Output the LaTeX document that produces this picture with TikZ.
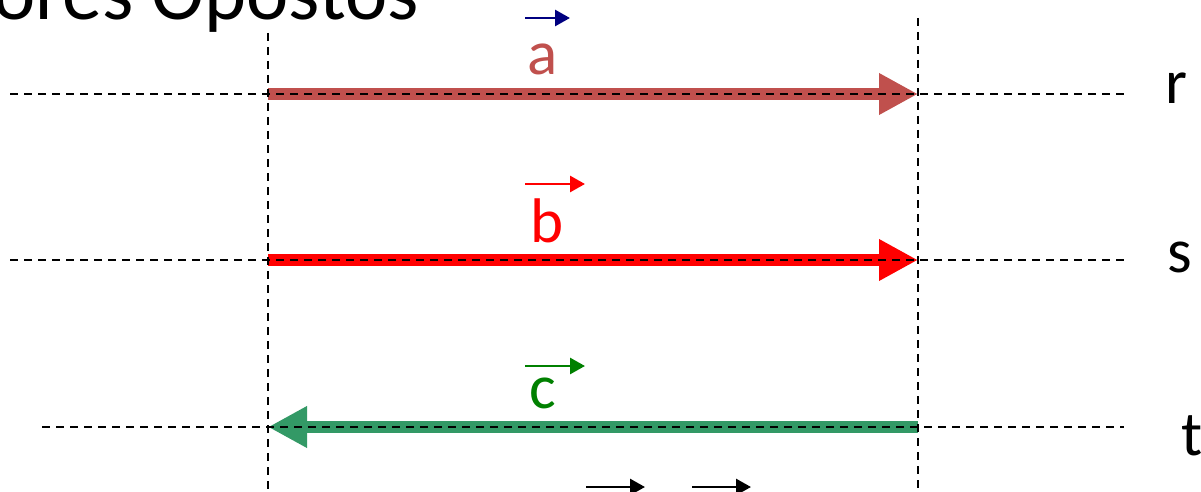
\documentclass[tikz,border=0pt]{standalone}
\usepackage{fontspec}
\setmainfont{Carlito}
\usetikzlibrary{arrows.meta}
\definecolor{aclr}{HTML}{C0504D}
\definecolor{bclr}{HTML}{FF0000}
\definecolor{cclr}{HTML}{339966}
\definecolor{ctext}{HTML}{008000}
\definecolor{navyc}{HTML}{000080}
\tikzset{
  guide/.style={draw=black, line width=2.4pt, dash pattern=on 8pt off 6pt},
  bigvec/.style={line width=12pt, -{Triangle[length=39pt,width=39pt]}},
  overvec/.style={line width=2.8pt, -{Triangle[length=15pt,width=16pt]}},
  lbl/.style={inner sep=0pt, font=\fontsize{63}{70}\selectfont},
}
\begin{document}
\begin{tikzpicture}[x=1pt,y=-1pt]
\useasboundingbox (0,0) rectangle (1201,492);
% title
\node[anchor=base east, inner sep=0pt, font=\fontsize{80}{90}\selectfont] (title) at (419,20) {Vetores Opostos};
% coordinates
\coordinate (aL) at (268,94); \coordinate (aR) at (918,94);
\coordinate (bL) at (268,260); \coordinate (bR) at (918,260);
\coordinate (cL) at (268,427); \coordinate (cR) at (918,427);
% thick vectors
\draw[bigvec, aclr] (aL) -- (aR);
\draw[bigvec, bclr] (bL) -- (bR);
\draw[bigvec, cclr] (cR) -- (cL);
% guide lines
\coordinate (rS) at (10,94); \coordinate (rE) at (1124,94);
\coordinate (sS) at (10,260); \coordinate (sE) at (1124,260);
\coordinate (tS) at (42,427); \coordinate (tE) at (1124,427);
\coordinate (v1S) at (268,33); \coordinate (v1E) at (268,492);
\coordinate (v2S) at (918,18); \coordinate (v2E) at (918,492);
\draw[guide] (rS) -- (rE);
\draw[guide] (sS) -- (sE);
\draw[guide] (tS) -- (tE);
\draw[guide] (v1S) -- (v1E);
\draw[guide] (v2S) -- (v2E);
% line labels
\node[lbl, anchor=base] (r) at (1176,104) {r};
\node[lbl, anchor=base] (s) at (1180,272) {s};
\node[lbl, anchor=base] (t) at (1192,455) {t};
% vector labels
\node[lbl, anchor=base, text=aclr] (la) at (543,75) {a};
\node[lbl, anchor=base, text=bclr] (lb) at (547,242) {b};
\node[lbl, anchor=base, text=ctext] (lc) at (543,408) {c};
\coordinate (oaS) at (525,18); \coordinate (oaE) at (570,18);
\coordinate (obS) at (525,184); \coordinate (obE) at (585,184);
\coordinate (ocS) at (525,366); \coordinate (ocE) at (585,366);
\draw[overvec, navyc] (oaS) -- (oaE);
\draw[overvec, bclr] (obS) -- (obE);
\draw[overvec, ctext] (ocS) -- (ocE);
% bottom arrows
\coordinate (d1S) at (586,487); \coordinate (d1E) at (645,487);
\coordinate (d2S) at (692,487); \coordinate (d2E) at (751,487);
\draw[overvec, black] (d1S) -- (d1E);
\draw[overvec, black] (d2S) -- (d2E);
\end{tikzpicture}
\end{document}
